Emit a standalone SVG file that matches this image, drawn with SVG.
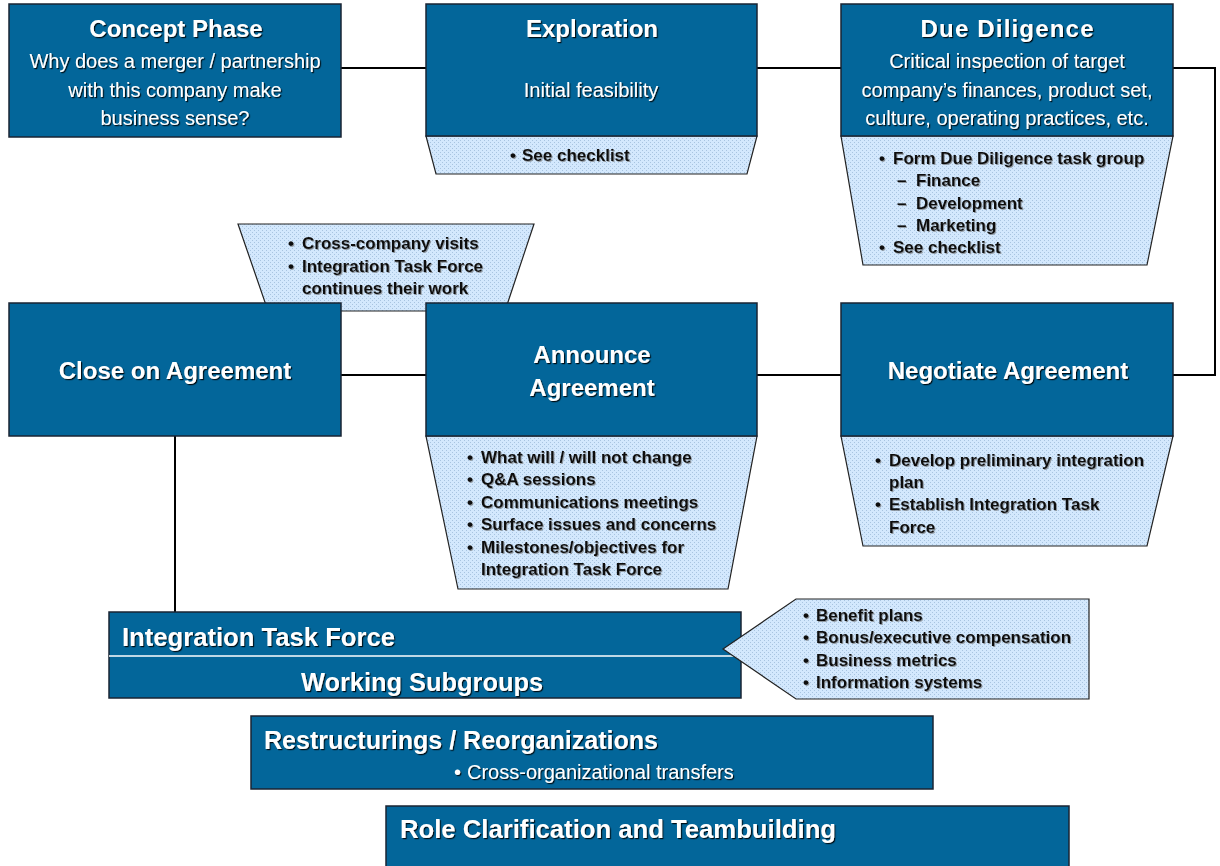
<svg xmlns="http://www.w3.org/2000/svg" width="1220" height="866" viewBox="0 0 1220 866">
<defs>
  <pattern id="dots" width="4" height="4" patternUnits="userSpaceOnUse">
    <rect width="4" height="4" fill="#d3e8fd"/>
    <rect x="0" y="0" width="1" height="1" fill="#a8c4e0"/>
    <rect x="2" y="2" width="1" height="1" fill="#a8c4e0"/>
  </pattern>
  <filter id="ws" x="-5%" y="-20%" width="110%" height="140%">
    <feDropShadow dx="1.2" dy="1.2" stdDeviation="0.3" flood-color="#000" flood-opacity="0.85"/>
  </filter>
  <filter id="bs" x="-5%" y="-20%" width="110%" height="140%">
    <feDropShadow dx="1" dy="1" stdDeviation="0.3" flood-color="#666" flood-opacity="0.6"/>
  </filter>
</defs>
<style>
  .box { fill: #03669a; stroke: #1a2433; stroke-width: 1.5; }
  .note { fill: url(#dots); stroke: #222; stroke-width: 1.2; }
  .conn { fill: none; stroke: #000; stroke-width: 2; }
  .title { font-family: "Liberation Sans", Arial, sans-serif; font-weight: bold; font-size: 24px; fill: #fff; filter: url(#ws); }
  .sub { font-family: "Liberation Sans", Arial, sans-serif; font-size: 20px; fill: #fff; filter: url(#ws); }
  .big { font-family: "Liberation Sans", Arial, sans-serif; font-weight: bold; font-size: 25px; fill: #fff; filter: url(#ws); }
  .bl { font-family: "Liberation Sans", Arial, sans-serif; font-weight: bold; font-size: 17px; fill: #111; filter: url(#bs); }
  .c { text-anchor: middle; }
</style>
<rect width="1220" height="866" fill="#fff"/>

<g id="connectors">
  <line class="conn" x1="341" y1="68" x2="426" y2="68"/>
  <line class="conn" x1="757" y1="68" x2="841" y2="68"/>
  <polyline class="conn" points="1173,68 1215,68 1215,375 1173,375"/>
  <line class="conn" x1="841" y1="375" x2="757" y2="375"/>
  <line class="conn" x1="426" y1="375" x2="341" y2="375"/>
  <line class="conn" x1="175" y1="436" x2="175" y2="612"/>
</g>

<g id="exploration-notes">
  <polygon class="note" points="426,136 757,136 747,174 436,174"/>
  <text class="bl" x="510" y="161">•</text>
  <text class="bl" x="522" y="161">See checklist</text>
</g>

<g id="due-diligence-notes">
  <polygon class="note" points="841,136 1173,136 1147,265 863,265"/>
  <text class="bl" x="879" y="164">•</text>
  <text class="bl" x="893" y="164">Form Due Diligence task group</text>
  <text class="bl" x="897" y="186">–</text>
  <text class="bl" x="916" y="186">Finance</text>
  <text class="bl" x="897" y="209">–</text>
  <text class="bl" x="916" y="209">Development</text>
  <text class="bl" x="897" y="231">–</text>
  <text class="bl" x="916" y="231">Marketing</text>
  <text class="bl" x="879" y="253">•</text>
  <text class="bl" x="893" y="253">See checklist</text>
</g>

<g id="cross-company-notes">
  <polygon class="note" points="238,224 534,224 505,311 268,311"/>
  <text class="bl" x="288" y="249">•</text>
  <text class="bl" x="302" y="249">Cross-company visits</text>
  <text class="bl" x="288" y="272">•</text>
  <text class="bl" x="302" y="272">Integration Task Force</text>
  <text class="bl" x="302" y="294">continues their work</text>
</g>

<g id="announce-notes">
  <polygon class="note" points="426,436 757,436 728,589 458,589"/>
  <text class="bl" x="467" y="463">•</text>
  <text class="bl" x="481" y="463">What will / will not change</text>
  <text class="bl" x="467" y="485">•</text>
  <text class="bl" x="481" y="485">Q&amp;A sessions</text>
  <text class="bl" x="467" y="508">•</text>
  <text class="bl" x="481" y="508">Communications meetings</text>
  <text class="bl" x="467" y="530">•</text>
  <text class="bl" x="481" y="530">Surface issues and concerns</text>
  <text class="bl" x="467" y="553">•</text>
  <text class="bl" x="481" y="553">Milestones/objectives for</text>
  <text class="bl" x="481" y="575">Integration Task Force</text>
</g>

<g id="negotiate-notes">
  <polygon class="note" points="841,436 1173,436 1147,546 863,546"/>
  <text class="bl" x="875" y="466">•</text>
  <text class="bl" x="889" y="466">Develop preliminary integration</text>
  <text class="bl" x="889" y="488">plan</text>
  <text class="bl" x="875" y="510">•</text>
  <text class="bl" x="889" y="510">Establish Integration Task</text>
  <text class="bl" x="889" y="533">Force</text>
</g>

<g id="concept-phase">
  <rect class="box" x="9" y="4" width="332" height="133"/>
  <text class="title c" x="176" y="37">Concept Phase</text>
  <text class="sub c" x="175" y="68">Why does a merger / partnership</text>
  <text class="sub c" x="175" y="97">with this company make</text>
  <text class="sub c" x="175" y="125">business sense?</text>
</g>

<g id="exploration">
  <rect class="box" x="426" y="4" width="331" height="132"/>
  <text class="title c" x="592" y="37">Exploration</text>
  <text class="sub c" x="591" y="97">Initial feasibility</text>
</g>

<g id="due-diligence">
  <rect class="box" x="841" y="4" width="332" height="132"/>
  <text class="title c" x="1007" y="37" textLength="173" lengthAdjust="spacing">Due Diligence</text>
  <text class="sub c" x="1007" y="68">Critical inspection of target</text>
  <text class="sub c" x="1007" y="97">company’s finances, product set,</text>
  <text class="sub c" x="1007" y="125">culture, operating practices, etc.</text>
</g>

<g id="close-on-agreement">
  <rect class="box" x="9" y="303" width="332" height="133"/>
  <text class="title c" x="175" y="379">Close on Agreement</text>
</g>

<g id="announce-agreement">
  <rect class="box" x="426" y="303" width="331" height="133"/>
  <text class="title c" x="592" y="363">Announce</text>
  <text class="title c" x="592" y="396">Agreement</text>
</g>

<g id="negotiate-agreement">
  <rect class="box" x="841" y="303" width="332" height="133"/>
  <text class="title c" x="1008" y="379">Negotiate Agreement</text>
</g>

<g id="integration-task-force">
  <rect class="box" x="109" y="612" width="632" height="86"/>
  <line x1="109" y1="656" x2="741" y2="656" stroke="#fff" stroke-width="1.5"/>
  <text class="big" x="122" y="646" textLength="273" lengthAdjust="spacingAndGlyphs">Integration Task Force</text>
  <text class="big" x="301" y="691" textLength="242" lengthAdjust="spacingAndGlyphs">Working Subgroups</text>
</g>

<g id="integration-notes">
  <polygon class="note" points="723,649 796,599 1089,599 1089,699 796,699"/>
  <text class="bl" x="803" y="621">•</text>
  <text class="bl" x="816" y="621">Benefit plans</text>
  <text class="bl" x="803" y="643">•</text>
  <text class="bl" x="816" y="643">Bonus/executive compensation</text>
  <text class="bl" x="803" y="666">•</text>
  <text class="bl" x="816" y="666">Business metrics</text>
  <text class="bl" x="803" y="688">•</text>
  <text class="bl" x="816" y="688">Information systems</text>
</g>

<g id="restructurings">
  <rect class="box" x="251" y="716" width="682" height="73"/>
  <text class="big" x="264" y="749" textLength="394" lengthAdjust="spacingAndGlyphs">Restructurings / Reorganizations</text>
  <text class="sub" x="454" y="779">•</text>
  <text class="sub" x="467" y="779">Cross-organizational transfers</text>
</g>

<g id="role-clarification">
  <rect class="box" x="386" y="806" width="683" height="70"/>
  <text class="big" x="400" y="838" textLength="436" lengthAdjust="spacingAndGlyphs">Role Clarification and Teambuilding</text>
</g>
</svg>
